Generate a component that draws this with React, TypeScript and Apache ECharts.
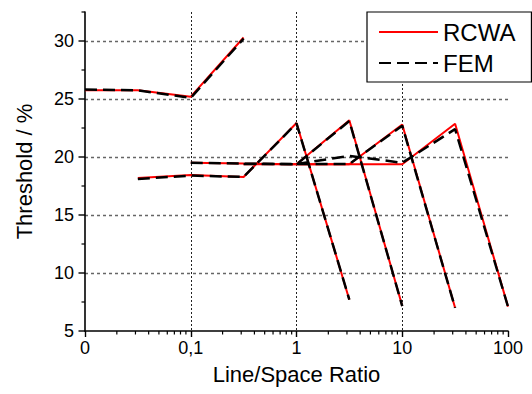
import React, { useEffect, useRef } from 'react';
import * as echarts from 'echarts';

// x positions (Line/Space ratio) of each curve segment
const xA = [0.01, 0.0316, 0.1, 0.316];
const xB = [0.0316, 0.1, 0.316, 1, 3.16];
const xC = [0.1, 0.316, 1, 3.16, 10];
const xD = [0.316, 1, 3.16, 10, 31.6];
const xE = [1, 3.16, 10, 31.6, 100];

// RCWA thresholds (%)
const rcwaA = [25.75, 25.75, 25.2, 30.3];
const rcwaB = [18.2, 18.45, 18.28, 22.93, 7.7];
const rcwaC = [19.5, 19.43, 19.37, 23.16, 7.15];
const rcwaD = [19.37, 19.37, 19.37, 22.8, 7.0];
const rcwaE = [19.37, 19.37, 19.37, 22.87, 7.1];

// FEM thresholds (%)
const femA = [25.82, 25.75, 25.1, 30.2];
const femB = [18.1, 18.4, 18.28, 22.9, 7.7];
const femC = [19.5, 19.43, 19.37, 23.1, 7.15];
const femD = [19.4, 19.4, 19.4, 22.7, 7.0];
const femE = [19.4, 20.1, 19.5, 22.4, 7.1];

// axis ticks
const xTickLabels = ['0', '0,1', '1', '10', '100'];
const xMinorTicks = [
  0.02, 0.03, 0.04, 0.05, 0.06, 0.07, 0.08, 0.09,
  0.2, 0.3, 0.4, 0.5, 0.6, 0.7, 0.8, 0.9,
  2, 3, 4, 5, 6, 7, 8, 9,
  20, 30, 40, 50, 60, 70, 80, 90,
];
const yMajorTicks = [5, 10, 15, 20, 25, 30];
const yMinorTicks = [7.5, 12.5, 17.5, 22.5, 27.5, 32.5];

const FONT = "'Liberation Sans', Arial, Helvetica, sans-serif";

export default function App() {
  const ref = useRef<HTMLDivElement>(null);

  useEffect(() => {
    document.body.style.margin = '0';
    const chart = echarts.init(ref.current as HTMLDivElement, null, { renderer: 'svg' });

    const segments: [number[], number[], number[]][] = [
      [xA, rcwaA, femA],
      [xB, rcwaB, femB],
      [xC, rcwaC, femC],
      [xD, rcwaD, femD],
      [xE, rcwaE, femE],
    ];

    const series: any[] = [];
    segments.forEach(([xs, r]) => {
      series.push({
        type: 'line',
        name: 'RCWA',
        data: xs.map((x, i) => [x, r[i]]),
        symbol: 'none',
        showSymbol: false,
        silent: true,
        lineStyle: { color: '#ff0000', width: 2 },
        itemStyle: { color: '#ff0000' },
        z: 3,
      });
    });
    segments.forEach(([xs, , f]) => {
      series.push({
        type: 'line',
        name: 'FEM',
        data: xs.map((x, i) => [x, f[i]]),
        symbol: 'none',
        showSymbol: false,
        silent: true,
        lineStyle: { color: '#000000', width: 2.5, type: [12, 6] },
        itemStyle: { color: '#000000' },
        z: 4,
      });
    });

    const tickSeries = (data: number[][], dx: number, dy: number, lw: number) => ({
      type: 'custom',
      silent: true,
      clip: false,
      z: 6,
      data,
      renderItem: (params: any, api: any) => {
        const p = api.coord([api.value(0), api.value(1)]);
        return {
          type: 'line',
          shape: { x1: p[0], y1: p[1], x2: p[0] + dx, y2: p[1] + dy },
          style: { stroke: '#000', lineWidth: lw },
        };
      },
    });

    series.push(tickSeries(xMinorTicks.map((v) => [v, 5]), 0, 3.5, 1.2));
    series.push(tickSeries(yMajorTicks.map((v) => [0.01, v]), -6.5, 0, 1.4));
    series.push(tickSeries(yMinorTicks.map((v) => [0.01, v]), -3.5, 0, 1.2));

    chart.setOption({
      animation: false,
      backgroundColor: '#ffffff',
      textStyle: { fontFamily: FONT },
      grid: { left: 85, right: 24, top: 12, bottom: 63, containLabel: false },
      legend: {
        data: ['RCWA', 'FEM'],
        orient: 'vertical',
        left: 367,
        top: 12,
        padding: [6, 16, 5, 11],
        itemGap: 3,
        itemWidth: 59,
        itemHeight: 14,
        backgroundColor: '#ffffff',
        borderColor: '#000000',
        borderWidth: 1.2,
        borderRadius: 0,
        selectedMode: false,
        itemStyle: { opacity: 0, borderWidth: 0 },
        textStyle: { fontSize: 24, fontFamily: FONT, color: '#000', lineHeight: 28 },
      },
      xAxis: {
        type: 'log',
        logBase: 10,
        min: 0.01,
        max: 100,
        name: 'Line/Space Ratio',
        nameLocation: 'middle',
        nameGap: 32,
        nameTextStyle: { fontSize: 22, fontFamily: FONT, color: '#000' },
        axisLine: { show: true, onZero: false, lineStyle: { color: '#000', width: 1.6 } },
        axisTick: { show: true, inside: false, length: 6, lineStyle: { color: '#000', width: 1.4 } },
        axisLabel: {
          fontSize: 18,
          fontFamily: FONT,
          color: '#000',
          margin: 8,
          formatter: (v: number) => xTickLabels[Math.round(Math.log10(v)) + 2] ?? '',
        },
        splitLine: {
          show: true,
          showMinLine: false,
          showMaxLine: false,
          lineStyle: { color: '#222', width: 1, type: [2, 2] },
        },
        minorTick: { show: false },
      },
      yAxis: {
        type: 'value',
        min: 5,
        max: 32.5,
        interval: 5,
        name: 'Threshold / %',
        nameLocation: 'middle',
        nameRotate: 90,
        nameGap: 50,
        nameTextStyle: { fontSize: 22, fontFamily: FONT, color: '#000' },
        axisLine: { show: true, onZero: false, lineStyle: { color: '#000', width: 1.6 } },
        axisTick: { show: false },
        axisLabel: {
          fontSize: 18,
          fontFamily: FONT,
          color: '#000',
          margin: 11,
          showMaxLabel: false,
          formatter: (v: number) => (v % 5 === 0 ? String(v) : ''),
        },
        splitLine: {
          show: true,
          showMinLine: false,
          showMaxLine: false,
          lineStyle: { color: '#666', width: 1.3, type: [3, 3] },
        },
      },
      series,
    });

    return () => chart.dispose();
  }, []);

  return <div ref={ref} style={{ width: 532, height: 394 }} />;
}
